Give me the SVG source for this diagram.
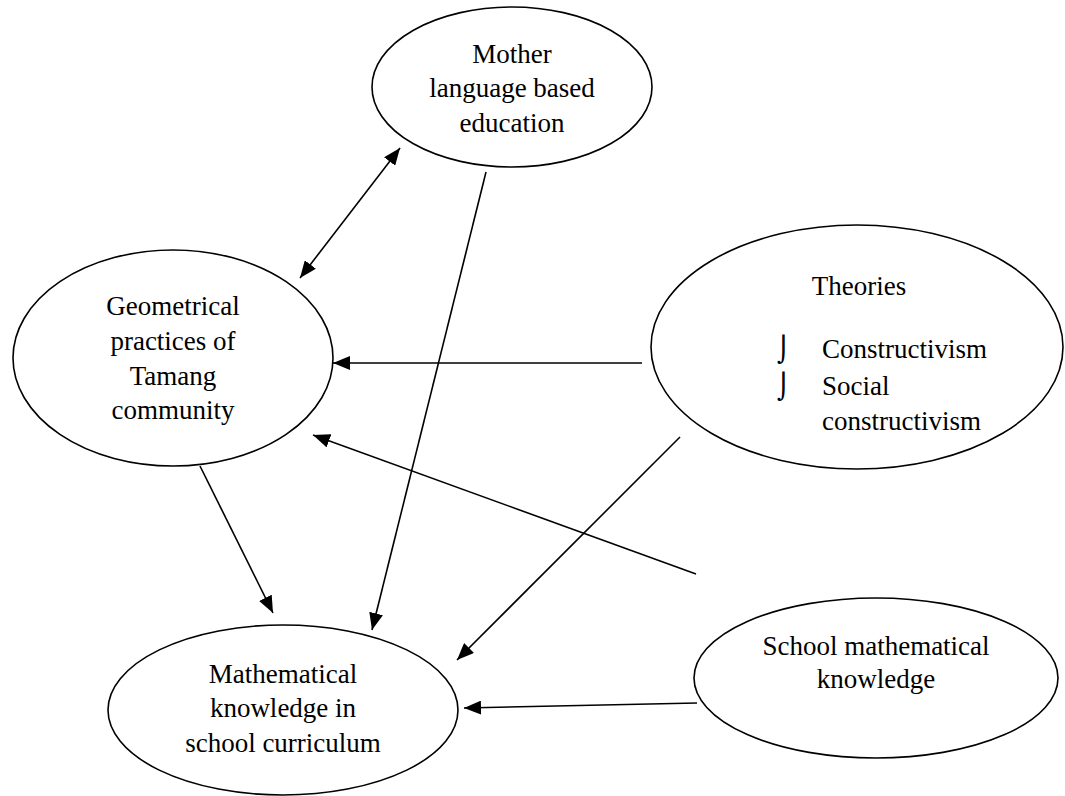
<svg xmlns="http://www.w3.org/2000/svg" width="1065" height="796" viewBox="0 0 1065 796">
<style>
.node ellipse{fill:#fff;stroke:#000;stroke-width:1.6}
.node text{font-family:"Liberation Serif","Times New Roman",serif;font-size:27px;fill:#000;text-anchor:middle}
.node text.left{text-anchor:start}
.node text.bul{font-family:"DejaVu Sans",sans-serif;font-size:25px;text-anchor:start}
#connectors line{stroke:#000;stroke-width:1.6;fill:none}
</style>
<defs>
<marker id="ah" markerUnits="userSpaceOnUse" markerWidth="18" markerHeight="14" viewBox="0 0 18 14" refX="17" refY="7" orient="auto-start-reverse">
<path d="M0,0 L17,7 L0,14 z" fill="#000"/>
</marker>
</defs>
<rect width="1065" height="796" fill="#fff"/>
<g id="mother" class="node">
<ellipse cx="512" cy="87" rx="140" ry="80"/>
<text x="512" y="63">Mother</text>
<text x="512" y="97">language based</text>
<text x="512" y="132">education</text>
</g>
<g id="geometrical" class="node">
<ellipse cx="173" cy="358" rx="160" ry="108"/>
<text x="173" y="315">Geometrical</text>
<text x="173" y="350">practices of</text>
<text x="173" y="385">Tamang</text>
<text x="173" y="419">community</text>
</g>
<g id="theories" class="node">
<ellipse cx="857" cy="347" rx="206" ry="122"/>
<text x="859" y="295">Theories</text>
<text class="bul" x="777" y="358">⌡</text>
<text class="left" x="822" y="358">Constructivism</text>
<text class="bul" x="777" y="395">⌡</text>
<text class="left" x="822" y="395">Social</text>
<text class="left" x="822" y="430">constructivism</text>
</g>
<g id="mathematical" class="node">
<ellipse cx="283" cy="710" rx="175" ry="85"/>
<text x="283" y="683">Mathematical</text>
<text x="283" y="717">knowledge in</text>
<text x="283" y="752">school curriculum</text>
</g>
<g id="school" class="node">
<ellipse cx="876" cy="678" rx="182" ry="80"/>
<text x="876" y="655">School mathematical</text>
<text x="876" y="688">knowledge</text>
</g>
<g id="connectors">
<line x1="300" y1="278" x2="400" y2="148" marker-start="url(#ah)" marker-end="url(#ah)"/>
<line x1="486" y1="172" x2="372" y2="630" marker-end="url(#ah)"/>
<line x1="200" y1="466" x2="273" y2="613" marker-end="url(#ah)"/>
<line x1="642" y1="363" x2="333" y2="363" marker-end="url(#ah)"/>
<line x1="680" y1="437" x2="457" y2="660" marker-end="url(#ah)"/>
<line x1="696" y1="574" x2="313" y2="435" marker-end="url(#ah)"/>
<line x1="697" y1="703" x2="464" y2="708" marker-end="url(#ah)"/>
</g>
</svg>
